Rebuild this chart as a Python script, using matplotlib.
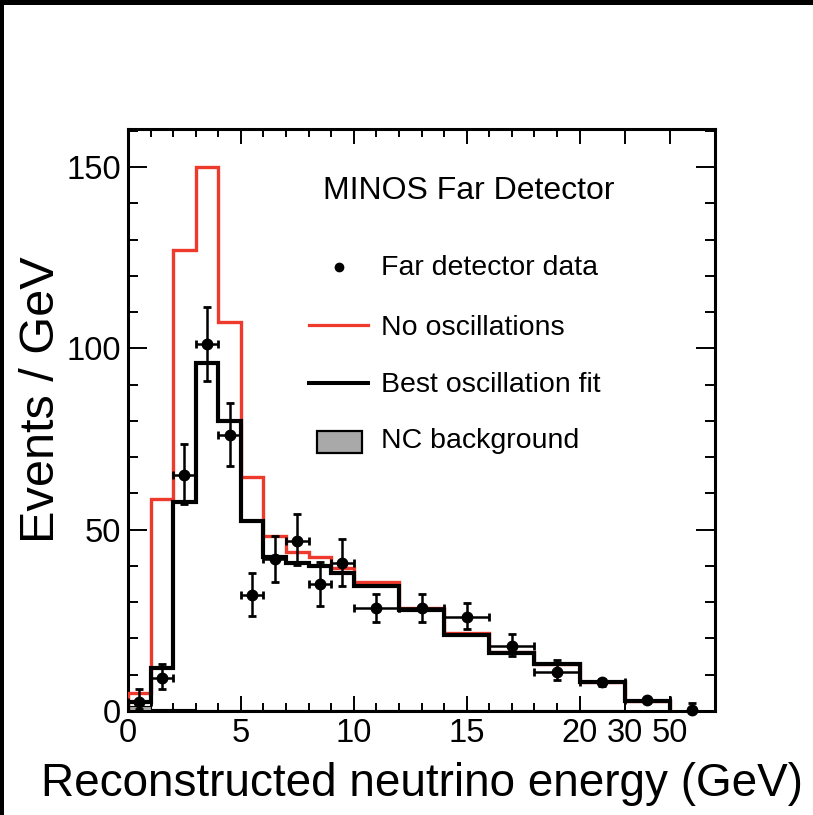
import numpy as np
import matplotlib
matplotlib.use("Agg")
import matplotlib.pyplot as plt
from matplotlib.patches import Rectangle
from matplotlib.lines import Line2D
from matplotlib.ticker import FixedLocator

plt.rcParams["font.family"] = ["Liberation Sans", "DejaVu Sans"]

# ---- histogram binning (GeV) ----
bin_edges = [0, 1, 2, 3, 4, 5, 6, 7, 8, 9, 10, 12, 14, 16, 18, 20, 30, 50]

# predictions, events / GeV
no_oscillations = [5.0, 58.4, 127.1, 150.0, 107.3, 64.6, 48.3, 43.9, 42.4, 39.4,
                   35.6, 28.4, 21.6, 16.3, 12.9, 7.9, 2.8]
best_fit = [2.4, 11.9, 57.5, 96.0, 80.0, 52.5, 42.5, 40.9, 40.0, 38.0,
            34.5, 27.8, 21.0, 16.1, 12.9, 7.9, 2.8]
nc_background = [1.5, 0.6, 0.6, 0.3, 0.3, 0.2, 0.2, 0.2, 0.2, 0.2,
                 0.2, 0.2, 0.2, 0.2, 0.2, 0.2, 0.1]

# far detector data (last point is the overflow above 50 GeV)
data_energy = [0.5, 1.5, 2.5, 3.5, 4.5, 5.5, 6.5, 7.5, 8.5, 9.5,
               11, 13, 15, 17, 19, 25, 40, 60]
data_events = [2.6, 9.0, 65.0, 101.2, 76.1, 31.9, 41.8, 47.0, 34.9, 40.9,
               28.5, 28.5, 26.0, 17.9, 10.7, 7.9, 3.0, 0.3]
data_xerr = [0.5, 0.5, 0.5, 0.5, 0.5, 0.5, 0.5, 0.5, 0.5, 0.5,
             1, 1, 1, 1, 1, 5, 10, 0]
data_err_low = [2.0, 2.8, 8.0, 10.2, 8.5, 5.6, 6.1, 6.6, 5.9, 6.4,
                3.9, 3.9, 3.5, 2.7, 2.2, 0.9, 0.4, 0.3]
data_err_high = [3.4, 4.0, 8.5, 10.1, 8.9, 6.1, 6.5, 7.2, 6.1, 6.5,
                 3.9, 3.9, 3.7, 3.2, 3.4, 0.9, 0.4, 2.0]

x_tick_values = [0, 5, 10, 15, 20, 30, 50]
x_tick_labels = ["0", "5", "10", "15", "20", "30", "50"]
x_minor_values = [i for i in range(1, 20) if i % 5]
y_tick_values = [0, 50, 100, 150]
y_minor_values = [v for v in range(10, 161, 10) if v % 50]

RED = "#ee3a2c"
GREY = "#a9a9a9"

# piecewise-linear energy axis: 1 unit per GeV up to 20 GeV, compressed above
E_KNOTS = np.array([0.0, 20.0, 30.0, 50.0, 70.0])
U_KNOTS = np.array([0.0, 20.0, 22.0, 24.0, 26.0])


def energy_to_axis(e):
    e = np.asarray(e, dtype=float)
    u = np.interp(e, E_KNOTS, U_KNOTS)
    u = np.where(e < 0, e, u)
    return np.where(e > 70, 26 + (e - 70) / 10.0, u)


def axis_to_energy(u):
    u = np.asarray(u, dtype=float)
    e = np.interp(u, U_KNOTS, E_KNOTS)
    e = np.where(u < 0, u, e)
    return np.where(u > 26, 70 + (u - 26) * 10.0, e)


W, H = 813, 815
fig = plt.figure(figsize=(W / 100, H / 100), dpi=100)
fig.patch.set_facecolor("white")


def fx(px):
    return px / W


def fy(py):
    return 1 - py / H


ax = fig.add_axes([fx(128), fy(711), (715 - 128) / W, (711 - 129) / H])
ax.set_xscale("function", functions=(energy_to_axis, axis_to_energy))

ax.stairs(nc_background, bin_edges, fill=True, facecolor=GREY,
          edgecolor="black", linewidth=0.8, zorder=2)
ax.stairs(no_oscillations, bin_edges, color=RED, linewidth=2.4, zorder=3)
ax.stairs(best_fit, bin_edges, color="black", linewidth=3.0, zorder=4)
ax.errorbar(data_energy, data_events, xerr=data_xerr,
            yerr=[data_err_low, data_err_high], fmt="o", color="black",
            markersize=7.5, elinewidth=1.8, capsize=3, capthick=2.0,
            zorder=5, clip_on=False)

ax.set_xlim(0, 70)
ax.set_ylim(0, 160.5)

ax.xaxis.set_major_locator(FixedLocator(x_tick_values))
ax.set_xticklabels(x_tick_labels)
ax.xaxis.set_minor_locator(FixedLocator(x_minor_values))
ax.yaxis.set_major_locator(FixedLocator(y_tick_values))
ax.yaxis.set_minor_locator(FixedLocator(y_minor_values))

ax.tick_params(which="both", direction="in", top=True, right=True,
               labelsize=23.5, width=1.4, color="black")
ax.tick_params(axis="x", which="major", length=11, pad=5)
ax.tick_params(axis="x", which="minor", length=6)
ax.tick_params(axis="y", which="major", length=14, pad=5)
ax.tick_params(axis="y", which="minor", length=7)
for s in ax.spines.values():
    s.set_linewidth(2.2)

# axis titles
fig.text(fx(422), fy(796), "Reconstructed neutrino energy (GeV)",
         fontsize=33, ha="center", va="baseline")
fig.text(fx(42), fy(400), "Events / GeV", fontsize=35, rotation=90,
         ha="center", va="center")

# legend block
fig.text(fx(469), fy(191), "MINOS Far Detector", fontsize=23,
         ha="center", va="center")
fig.add_artist(Line2D([fx(339)], [fy(267)], marker="o", markersize=6,
                      color="black", linestyle="none",
                      transform=fig.transFigure))
fig.add_artist(Line2D([fx(309), fx(368)], [fy(325), fy(325)], color=RED,
                      linewidth=2.3, transform=fig.transFigure))
fig.add_artist(Line2D([fx(309), fx(368)], [fy(383), fy(383)], color="black",
                      linewidth=2.9, transform=fig.transFigure))
fig.add_artist(Rectangle((fx(317), fy(453)), (362 - 317) / W, (453 - 431) / H,
                         facecolor=GREY, edgecolor="black", linewidth=1.6,
                         transform=fig.transFigure))
for label, ycen in [("Far detector data", 268), ("No oscillations", 328),
                    ("Best oscillation fit", 385), ("NC background", 441)]:
    fig.text(fx(381), fy(ycen), label, fontsize=20.5, ha="left", va="center")

# dark frame along the top and left edges of the image
fig.add_artist(Rectangle((0, fy(5)), 1, 5 / H, facecolor="black",
                         edgecolor="none", transform=fig.transFigure))
fig.add_artist(Rectangle((0, 0), 4 / W, 1, facecolor="black",
                         edgecolor="none", transform=fig.transFigure))

fig.savefig("out.png", dpi=100)
